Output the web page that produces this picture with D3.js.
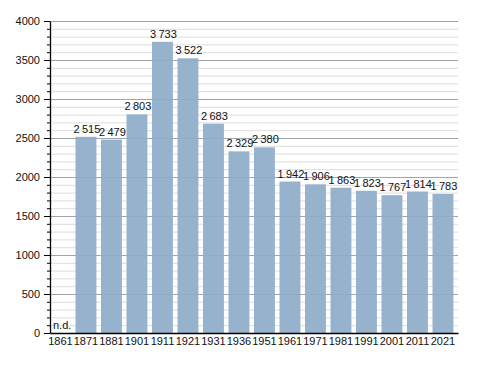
<!DOCTYPE html>
<html>
<head>
<meta charset="utf-8">
<script src="https://cdn.jsdelivr.net/npm/d3@7"></script>
<style>
  body { margin: 0; background: #fff; }
  svg text { font-family: "Liberation Sans", Arial, sans-serif; }
</style>
</head>
<body>
<div id="chart"></div>
<script>
const years = ['1861', '1871', '1881', '1901', '1911', '1921', '1931', '1936',
               '1951', '1961', '1971', '1981', '1991', '2001', '2011', '2021']
// null = no data (n.d.)
const population = [null, 2515, 2479, 2803, 3733, 3522, 2683, 2329,
                    2380, 1942, 1906, 1863, 1823, 1767, 1814, 1783]
const majorTicks = [0, 500, 1000, 1500, 2000, 2500, 3000, 3500, 4000]
const minorTicks = d3.range(0, 4001, 100)

const w = 488
const h = 373
const mLeft = 50, mRight = 458, mTop = 21, mBottom = 333

const svg = d3.select('#chart')
    .append('svg')
    .attr('width', w)
    .attr('height', h)

const xScale = d3.scaleBand()
    .domain(years)
    .range([mLeft, mRight])
    .paddingInner(0.18)
    .paddingOuter(0.09)
    .align(0)

const yScale = d3.scaleLinear()
    .domain([0, 4000])
    .range([mBottom, mTop])

const rows = years.map((y, i) => ({year: y, value: population[i]}))

// minor grid
svg.append('g')
    .selectAll('line')
    .data(minorTicks.filter(d => d % 500 !== 0))
    .enter()
    .append('line')
    .attr('x1', mLeft).attr('x2', mRight)
    .attr('y1', d => yScale(d) + 0.5).attr('y2', d => yScale(d) + 0.5)
    .attr('stroke', '#dddddd')

// major grid
svg.append('g')
    .selectAll('line')
    .data(majorTicks.filter(d => d > 0))
    .enter()
    .append('line')
    .attr('x1', mLeft).attr('x2', mRight)
    .attr('y1', d => yScale(d) + 0.5).attr('y2', d => yScale(d) + 0.5)
    .attr('stroke', '#a8a8a8')

// bars
svg.append('g')
    .selectAll('rect')
    .data(rows.filter(d => d.value !== null))
    .enter()
    .append('rect')
    .attr('x', d => xScale(d.year))
    .attr('y', d => yScale(d.value))
    .attr('width', xScale.bandwidth())
    .attr('height', d => mBottom - yScale(d.value))
    .attr('fill', '#97b2cd')

// faint grid showing through bars
svg.append('g')
    .selectAll('line')
    .data(majorTicks.filter(d => d > 0))
    .enter()
    .append('line')
    .attr('x1', mLeft).attr('x2', mRight)
    .attr('y1', d => yScale(d) + 0.5).attr('y2', d => yScale(d) + 0.5)
    .attr('stroke', '#8aa0b8')
    .attr('stroke-opacity', 0.35)

const fmt = d => d3.format(',')(d).replace(',', '\u2009')

// value labels
svg.append('g')
    .selectAll('text')
    .data(rows)
    .enter()
    .append('text')
    .attr('x', d => d.value === null ? mLeft + 3 : xScale(d.year) + xScale.bandwidth() / 2 + 1)
    .attr('y', d => d.value === null ? mBottom - 4 : yScale(d.value) - 4)
    .attr('text-anchor', d => d.value === null ? 'start' : 'middle')
    .attr('font-size', '11px')
    .attr('fill', '#111')
    .text(d => d.value === null ? 'n.d.' : fmt(d.value))

// x axis
const xAxis = svg.append('g')
    .attr('transform', 'translate(0,' + mBottom + ')')
    .call(d3.axisBottom(xScale).tickSize(0).tickSizeOuter(0).tickPadding(4))
xAxis.select('.domain').attr('stroke', '#000').attr('stroke-width', 1.3)
xAxis.selectAll('text').attr('font-size', '11px').attr('fill', '#111')
    .attr('font-family', '"Liberation Sans", Arial, sans-serif')

// y axis minor ticks
svg.append('g')
    .attr('transform', 'translate(' + mLeft + ',0)')
    .call(d3.axisLeft(yScale).tickValues(minorTicks).tickSize(3).tickFormat(''))
    .call(g => g.select('.domain').remove())

// y axis
const yAxis = svg.append('g')
    .attr('transform', 'translate(' + mLeft + ',0)')
    .call(d3.axisLeft(yScale).tickValues(majorTicks).tickFormat(d3.format('d'))
        .tickSize(6).tickSizeOuter(0).tickPadding(4))
yAxis.select('.domain').attr('stroke', '#000').attr('stroke-width', 1.3)
yAxis.selectAll('text').attr('font-size', '11px').attr('fill', '#111')
    .attr('font-family', '"Liberation Sans", Arial, sans-serif')
</script>
</body>
</html>
